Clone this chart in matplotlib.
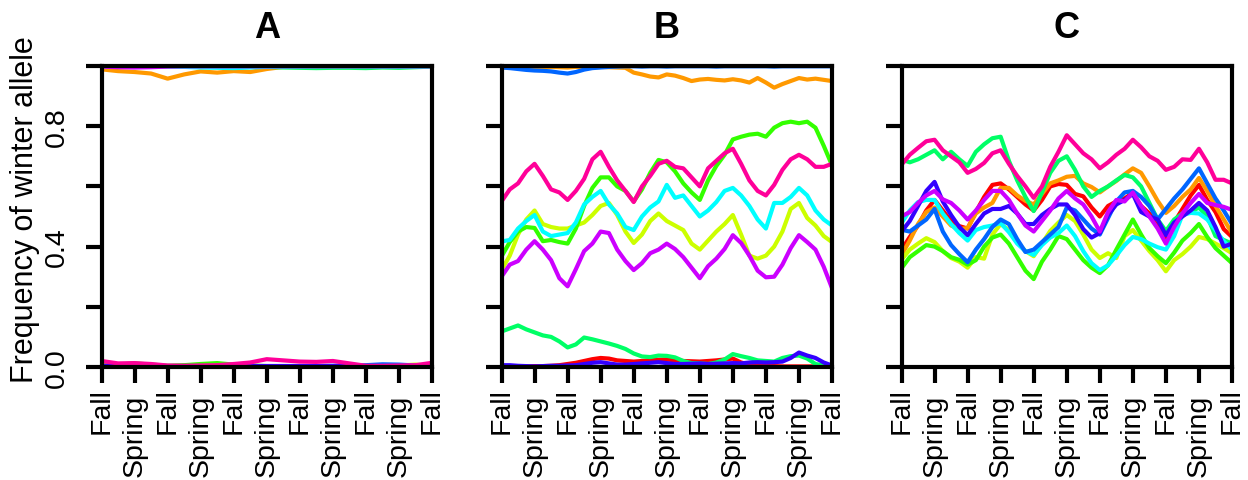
import numpy as np
import matplotlib.pyplot as plt
from matplotlib.transforms import ScaledTranslation

plt.rcParams['font.family'] = ['Liberation Sans', 'DejaVu Sans']

# R rainbow(10) colours, drawn in this order
colors = ["#FF0000", "#FF9900", "#CCFF00", "#33FF00", "#00FF66",
          "#00FFFF", "#0066FF", "#3300FF", "#CC00FF", "#FF0099"]

tick_labels = ["Fall", "Spring", "Fall", "Spring", "Fall", "Spring",
               "Fall", "Spring", "Fall", "Spring", "Fall"]
titles = ["A", "B", "C"]

# sample positions (in seasons)
t_a = np.linspace(0, 10, 21)
t_bc = np.linspace(0, 10, 41)

# ---- panel A ----
a_red = [.004, .003, .003, .002, .003, .004, .005, .004, .003, .003, .002,
         .002, .003, .003, .002, .002, .002, .002, .003, .003, .004]
a_orange = [.989, .983, .980, .975, .958, .972, .982, .978, .983, .980, .990,
            .997, .998, .998, .998, .998, .998, .998, .998, .998, .998]
a_yellow = [.002, .002, .003, .003, .002, .002, .003, .003, .002, .002, .002,
            .002, .002, .002, .002, .002, .003, .004, .005, .008, .004]
a_green = [.005, .008, .012, .008, .004, .006, .010, .013, .008, .005, .003,
           .003, .002, .002, .002, .002, .002, .002, .002, .002, .002]
a_spring = [.999, .999, .999, .999, .999, .998, .998, .998, .998, .998, .997,
            .995, .994, .993, .994, .994, .993, .995, .994, .996, .998]
a_cyan = [.999, .999, .998, .998, .998, .997, .995, .994, .993, .995, .997,
          .998, .998, .999, .999, .999, .999, .998, .998, .998, .999]
a_azure = [.002, .002, .002, .002, .002, .002, .002, .002, .002, .002, .002,
           .002, .002, .003, .004, .005, .006, .009, .008, .005, .003]
a_violet = [.002, .002, .002, .002, .002, .002, .002, .002, .002, .002, .002,
            .002, .002, .002, .002, .002, .002, .002, .002, .002, .002]
a_purple = [.998, .996, .995, .996, .998, .999, .999, .999, .999, .999, .999,
            .999, .999, .999, .999, .999, .999, .999, .999, .999, .999]
a_pink = [.020, .012, .013, .010, .005, .004, .005, .006, .010, .015, .026,
          .022, .018, .017, .020, .012, .004, .004, .005, .006, .014]

# ---- panel B ----
b_red = [.002, .002, .002, .002, .003, .003, .004, .006, .010, .014, .020, .026,
         .030, .028, .022, .020, .018, .020, .022, .024, .025, .022, .020, .019,
         .018, .020, .022, .025, .028, .015, .008, .006, .004, .003, .002, .002,
         .002, .002, .002, .002, .003]
b_orange = [.994, .996, .995, .997, .996, .995, .997, .996, .995, .997, .996, .995,
            .997, .996, .995, .994, .978, .972, .965, .962, .972, .968, .960, .950,
            .955, .957, .954, .952, .956, .952, .945, .960, .945, .928, .940, .950,
            .960, .955, .958, .954, .950]
b_yellow = [.322, .37, .44, .49, .52, .475, .465, .46, .46, .47, .48, .505,
            .535, .545, .505, .45, .412, .44, .485, .51, .485, .47, .455, .41,
            .39, .42, .45, .475, .505, .44, .37, .36, .37, .40, .45, .525,
            .545, .495, .47, .435, .415]
b_green = [.367, .415, .45, .465, .462, .418, .422, .415, .41, .46, .535, .595,
           .63, .63, .60, .585, .55, .59, .645, .688, .68, .65, .61, .58,
           .555, .62, .668, .705, .756, .765, .772, .775, .765, .795, .81, .815,
           .81, .815, .795, .735, .67]
b_spring = [.118, .128, .138, .125, .115, .105, .10, .085, .065, .075, .098, .092,
            .085, .078, .07, .06, .045, .035, .033, .038, .037, .032, .02, .013,
            .012, .01, .015, .025, .043, .036, .03, .022, .02, .018, .03, .036,
            .038, .028, .01, .005, .002]
b_cyan = [.417, .422, .46, .485, .505, .45, .435, .44, .445, .48, .54, .565,
          .585, .54, .51, .465, .455, .50, .53, .55, .605, .562, .57, .535,
          .50, .52, .548, .585, .595, .57, .535, .49, .46, .545, .545, .565,
          .595, .57, .52, .49, .47]
b_azure = [.995, .993, .990, .987, .985, .984, .982, .978, .975, .980, .988, .993,
           .995, .997, .998, .999, .999, .998, .999, .999, .998, .999, .999, .999,
           .999, .999, .998, .999, .999, .999, .999, .999, .999, .998, .999, .999,
           .999, .999, .999, .999, .999]
b_violet = [.006, .006, .004, .003, .002, .003, .004, .004, .005, .006, .010, .014,
            .016, .012, .008, .008, .010, .012, .014, .016, .013, .010, .010, .011,
            .012, .010, .011, .012, .013, .012, .015, .016, .015, .016, .018, .030,
            .048, .038, .030, .015, .005]
b_purple = [.30, .34, .352, .39, .418, .39, .355, .295, .268, .325, .385, .41,
            .45, .445, .39, .352, .322, .345, .378, .39, .41, .392, .365, .33,
            .295, .335, .36, .392, .438, .412, .37, .32, .298, .30, .34, .395,
            .438, .415, .39, .333, .262]
b_pink = [.55, .59, .61, .65, .675, .635, .59, .58, .555, .585, .625, .69,
          .715, .665, .62, .585, .548, .60, .635, .675, .685, .665, .66, .63,
          .60, .66, .685, .71, .725, .675, .62, .585, .57, .605, .655, .69,
          .705, .69, .665, .665, .675]

# ---- panel C ----
c_red = [.389, .432, .47, .52, .555, .52, .485, .468, .46, .515, .565, .605,
         .61, .59, .565, .54, .52, .555, .60, .608, .605, .575, .567, .53,
         .50, .535, .55, .56, .578, .535, .51, .475, .43, .48, .525, .57,
         .605, .555, .515, .458, .432]
c_orange = [.372, .42, .475, .515, .53, .50, .47, .458, .462, .51, .53, .545,
            .595, .595, .57, .552, .54, .575, .61, .62, .632, .635, .61, .598,
            .58, .60, .618, .64, .66, .645, .60, .552, .512, .535, .565, .59,
            .628, .585, .535, .49, .445]
c_yellow = [.356, .39, .41, .428, .415, .385, .362, .35, .33, .365, .36, .44,
            .475, .455, .415, .385, .368, .41, .452, .48, .505, .485, .44, .39,
            .362, .378, .362, .435, .455, .42, .385, .355, .318, .355, .375, .40,
            .432, .425, .41, .395, .378]
c_green = [.328, .365, .385, .405, .40, .385, .365, .356, .34, .355, .40, .43,
           .44, .41, .365, .32, .292, .35, .39, .435, .425, .39, .355, .33,
           .312, .338, .39, .44, .49, .44, .395, .368, .345, .38, .42, .445,
           .475, .432, .395, .37, .345]
c_spring = [.689, .68, .69, .705, .72, .69, .715, .69, .668, .715, .74, .76,
            .765, .685, .62, .565, .518, .58, .645, .685, .70, .655, .60, .565,
            .585, .60, .62, .638, .63, .60, .545, .49, .452, .49, .51, .515,
            .53, .50, .435, .422, .41]
c_cyan = [.478, .52, .548, .555, .555, .51, .475, .445, .42, .455, .465, .47,
          .478, .448, .41, .385, .372, .405, .43, .445, .47, .435, .385, .345,
          .322, .338, .37, .405, .432, .425, .41, .398, .39, .435, .505, .512,
          .51, .49, .455, .418, .39]
c_azure = [.456, .45, .47, .49, .525, .45, .405, .375, .348, .39, .425, .465,
           .49, .475, .425, .382, .39, .415, .44, .465, .53, .52, .49, .46,
           .44, .495, .55, .58, .585, .565, .535, .49, .525, .56, .59, .625,
           .66, .61, .56, .52, .475]
c_violet = [.45, .485, .535, .585, .615, .55, .505, .465, .438, .475, .51, .525,
            .525, .535, .51, .475, .475, .505, .525, .54, .54, .505, .458, .43,
            .445, .505, .54, .555, .575, .515, .50, .49, .438, .48, .50, .52,
            .545, .52, .465, .40, .41]
c_purple = [.50, .515, .545, .57, .585, .557, .545, .52, .49, .52, .555, .585,
            .585, .555, .51, .47, .45, .485, .52, .56, .585, .56, .54, .50,
            .45, .515, .555, .55, .58, .535, .50, .46, .41, .465, .51, .545,
            .575, .545, .538, .532, .522]
c_pink = [.672, .705, .728, .75, .755, .72, .70, .68, .645, .658, .678, .71,
          .72, .675, .635, .60, .562, .60, .665, .715, .77, .74, .71, .69,
          .66, .68, .705, .725, .755, .73, .70, .685, .655, .665, .69, .688,
          .725, .68, .622, .622, .61]

panels = [
    (t_a, [a_red, a_orange, a_yellow, a_green, a_spring,
           a_cyan, a_azure, a_violet, a_purple, a_pink]),
    (t_bc, [b_red, b_orange, b_yellow, b_green, b_spring,
            b_cyan, b_azure, b_violet, b_purple, b_pink]),
    (t_bc, [c_red, c_orange, c_yellow, c_green, c_spring,
            c_cyan, c_azure, c_violet, c_purple, c_pink]),
]

fig = plt.figure(figsize=(12.48, 4.81), dpi=100)
lefts = [101.5, 501.5, 901.5]

for i, (t, series) in enumerate(panels):
    ax = fig.add_axes([lefts[i] / 1248, 113 / 481, 330.5 / 1248, 301 / 481])
    for vals, col in zip(series, colors):
        ax.plot(t, vals, color=col, lw=3, solid_capstyle='butt')
    ax.set_xlim(0, 10)
    ax.set_ylim(0, 1)
    for sp in ax.spines.values():
        sp.set_linewidth(3)
    ax.tick_params(direction='out', length=11.5, width=3, labelsize=20.5)
    ax.set_xticks(range(11))
    ax.set_xticklabels(tick_labels, rotation=90, va='top', ha='center')
    ax.tick_params(axis='x', pad=3)
    ax.set_yticks([0, 0.2, 0.4, 0.6, 0.8, 1.0])
    if i == 0:
        ax.set_yticklabels(["0.0", "", "0.4", "", "0.8", ""],
                           rotation=90, va='center', ha='right')
        ax.tick_params(axis='y', pad=11)
    else:
        ax.set_yticklabels([])
    # Spring labels sit a little lower, as in the original
    for k, lab in enumerate(ax.get_xticklabels()):
        if k % 2 == 1:
            lab.set_transform(lab.get_transform() +
                              ScaledTranslation(0, -7 / 100, fig.dpi_scale_trans))
    ax.set_title(titles[i], fontsize=26, fontweight='bold', pad=21)

fig.text(33 / 1248, 1 - 210 / 481, "Frequency of winter allele", fontsize=22,
         rotation=90, rotation_mode='anchor', ha='center', va='baseline')

fig.savefig("out.png", dpi=100)
